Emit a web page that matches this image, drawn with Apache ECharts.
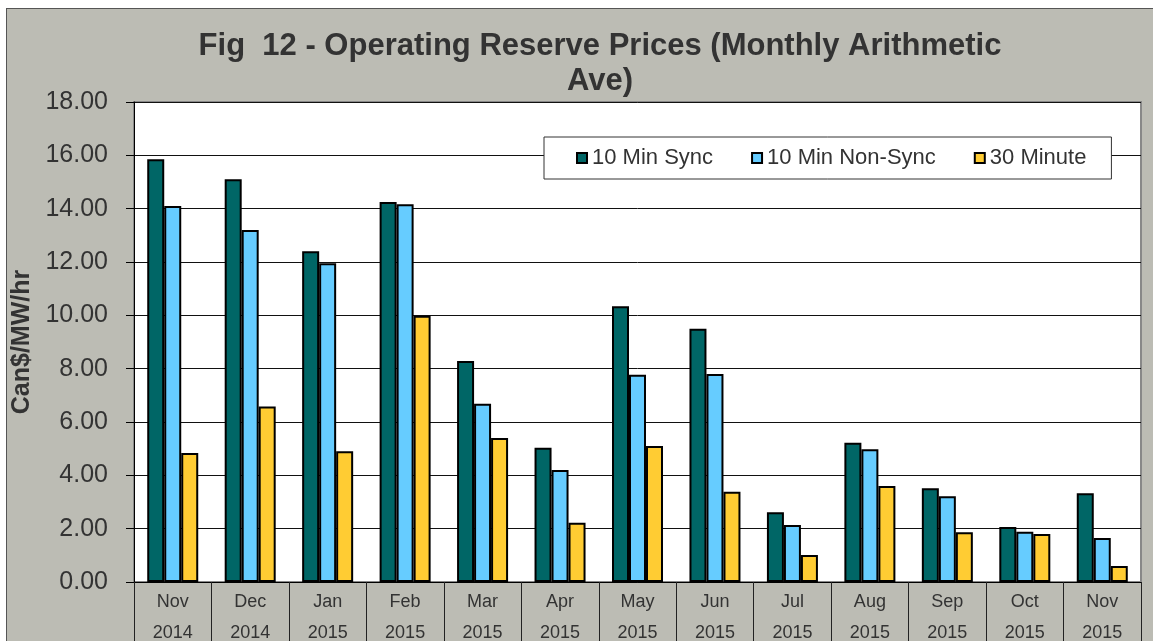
<!DOCTYPE html>
<html>
<head>
<meta charset="utf-8">
<script src="https://cdn.jsdelivr.net/npm/echarts@6/dist/echarts.min.js"></script>
<style>
  html, body { margin: 0; padding: 0; background: #fff; overflow: hidden; }
  #frame { position: absolute; left: 6px; top: 8px; width: 1160px; height: 650px;
           background: #bcbcb4; border-left: 1px solid #555; border-top: 1px solid #555; }
  #chart { position: absolute; left: 0; top: 0; width: 1153px; height: 641px; }
</style>
</head>
<body>
<div id="frame"></div>
<div id="chart"></div>
<script>
// monthly arithmetic averages, Can$/MW/hr
const months = ['Nov\n2014', 'Dec\n2014', 'Jan\n2015', 'Feb\n2015', 'Mar\n2015', 'Apr\n2015', 'May\n2015',
    'Jun\n2015', 'Jul\n2015', 'Aug\n2015', 'Sep\n2015', 'Oct\n2015', 'Nov\n2015'];
const sync10 = [15.85, 15.1, 12.4, 14.25, 8.29, 5.03, 10.34, 9.5, 2.62, 5.22, 3.52, 2.06, 3.33];
const nonSync10 = [14.1, 13.2, 11.95, 14.17, 6.68, 4.2, 7.77, 7.8, 2.14, 4.98, 3.22, 1.88, 1.65];
const min30 = [4.84, 6.58, 4.9, 9.98, 5.4, 2.22, 5.1, 3.38, 1.01, 3.6, 1.87, 1.8, 0.6];

const chart = echarts.init(document.getElementById('chart'));

const textColor = '#333';
const font = 'Liberation Sans, Arial, sans-serif';

const barSeries = (name, data, color) => ({
    name,
    type: 'bar',
    data,
    barWidth: 17,
    barGap: '0%',
    itemStyle: { color, borderColor: '#000', borderWidth: 2 },
});

const option = {
    animation: false,
    backgroundColor: 'transparent',
    textStyle: { fontFamily: font },
    title: {
        text: 'Fig  12 - Operating Reserve Prices (Monthly Arithmetic\nAve)',
        left: 595,
        top: 24,
        textAlign: 'center',
        textStyle: { fontSize: 31, fontWeight: 'bold', color: textColor, lineHeight: 35, fontFamily: font },
    },
    legend: {
        left: 544,
        top: 137,
        padding: [10, 25, 10, 32],
        backgroundColor: '#fff',
        borderColor: '#333',
        borderWidth: 1,
        borderRadius: 0,
        itemWidth: 10,
        itemHeight: 10,
        itemGap: 38,
        icon: 'rect',
        textStyle: { fontSize: 22, color: textColor, fontFamily: font },
        data: ['10 Min Sync', '10 Min Non-Sync', '30 Minute'],
    },
    grid: {
        left: 134,
        top: 102,
        right: 12,
        bottom: 59,
        outerBoundsMode: 'none',
        show: true,
        backgroundColor: '#fff',
        borderColor: '#888',
        borderWidth: 2,
    },
    xAxis: {
        type: 'category',
        data: months,
        axisLine: { lineStyle: { color: '#000', width: 1 } },
        axisTick: { show: true, length: 60, lineStyle: { color: '#222' } },
        axisLabel: { fontSize: 18, color: textColor, lineHeight: 31, margin: 5, fontFamily: font },
    },
    yAxis: {
        type: 'value',
        min: 0,
        max: 18,
        interval: 2,
        name: 'Can$/MW/hr',
        nameLocation: 'middle',
        nameGap: 85,
        nameRotate: 90,
        nameTextStyle: { fontSize: 25, fontWeight: 'bold', color: textColor, fontFamily: font },
        axisLine: { show: true, lineStyle: { color: '#000', width: 1 } },
        axisTick: { show: true, length: 8, lineStyle: { color: '#000' } },
        axisLabel: {
            fontSize: 25,
            color: textColor,
            margin: 26,
            fontFamily: font,
            formatter: (v) => v.toFixed(2),
        },
        splitLine: { lineStyle: { color: '#111', width: 1 } },
    },
    series: [
        barSeries('10 Min Sync', sync10, '#006666'),
        barSeries('10 Min Non-Sync', nonSync10, '#66ccff'),
        barSeries('30 Minute', min30, '#ffcc33'),
    ],
};

chart.setOption(option);
</script>
</body>
</html>
